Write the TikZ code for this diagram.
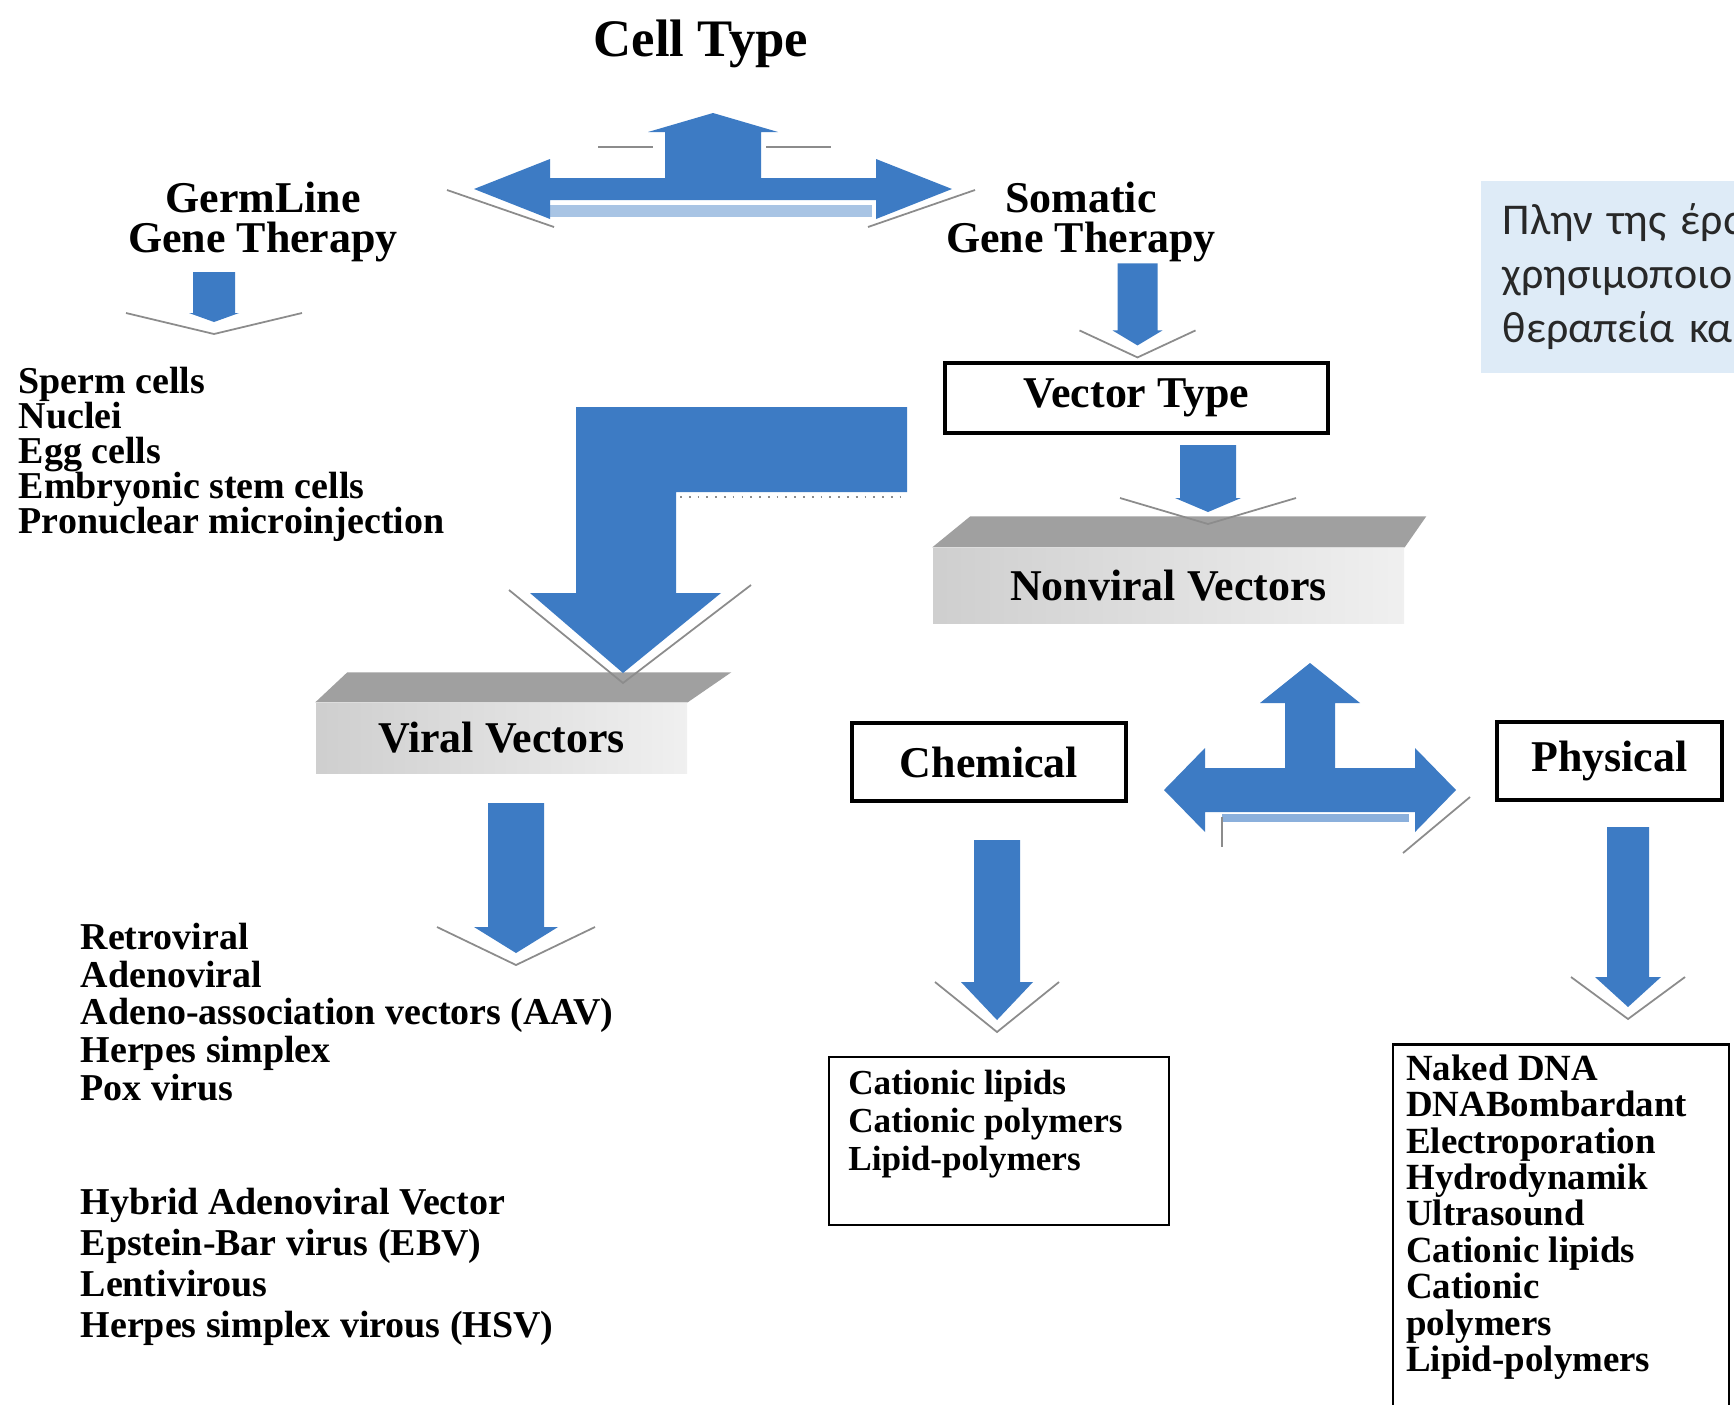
\documentclass[tikz,border=0pt]{standalone}
\usepackage{fontspec}
\setmainfont{Liberation Serif}
\newfontfamily\greekfont{Carlito}
\usepackage{xcolor}
\definecolor{arrowblue}{RGB}{61,123,196}
\definecolor{winggray}{RGB}{140,140,140}
\definecolor{slabtop}{RGB}{160,160,160}
\definecolor{notebg}{RGB}{222,235,247}
\definecolor{notetext}{RGB}{40,40,40}
\usetikzlibrary{positioning, calc}
\setlength{\lineskiplimit}{-100pt}

% block arrow pointing down, tip at the pic origin: length/stem/head/head length/wing
\tikzset{
  pics/downarrow/.style args={#1/#2/#3/#4/#5}{code={
      \draw[wing] (-#5,-#4) -- (0,12) -- (#5,-#4);
      \fill[arrowblue] (-#2,-#1) -- (#2,-#1) -- (#2,-#4) -- (#3,-#4)
        -- (0,0) -- (-#3,-#4) -- (-#2,-#4) -- cycle;
  }}
}

\begin{document}
\begin{tikzpicture}[
    x=0.1mm, y=-0.1mm,
    titletext/.style={font=\fontsize{15}{18}\selectfont\bfseries},
    heading/.style={font=\fontsize{12.5}{11.5}\selectfont\bfseries, align=center, inner sep=0pt},
    listtext/.style={font=\fontsize{10.8}{10}\selectfont\bfseries, align=left, anchor=north west, inner sep=0pt},
    labelbox/.style={rectangle, draw, line width=0.9pt, font=\fontsize{12.5}{15}\selectfont\bfseries},
    slabfront/.style={rectangle, left color=gray!38, right color=gray!12, font=\fontsize{12.5}{15}\selectfont\bfseries},
    wing/.style={draw=winggray, line width=0.5pt},
    notebox/.style={rectangle, fill=notebg, text=notetext, align=left, anchor=north west,
      font=\greekfont\fontsize{12.5}{15.3}\selectfont, inner xsep=2.2mm, text width=28mm, minimum height=19.2mm}
  ]
  \useasboundingbox (0,0) rectangle (1734,1404);
  \clip (0,0) rectangle (1734,1404);
  \fill[white] (0,0) rectangle (1734,1404);

  % texts and boxes
  \node[titletext] (celltype) at (701,44) {Cell Type};
  \node[heading] (germline) at (263,222) {GermLine\\Gene Therapy};
  \node[heading] (somatic) at (1081,222) {Somatic\\Gene Therapy};
  \node[notebox] (note) at (1480,180) {Πλην της έρα\\χρησιμοποιο\\θεραπεία κα};

  \node[listtext] (germcells) at (18,366)
    {Sperm cells\\Nuclei\\Egg cells\\Embryonic stem cells\\Pronuclear microinjection};

  \node[labelbox, minimum width=38.3mm, minimum height=7mm] (vtype) at (1136.5,398) {Vector Type};

  \node[slabfront, minimum width=47.1mm, minimum height=7.5mm] (nonviral) at (1168.5,585.5) {Nonviral Vectors};
  \fill[slabtop] (nonviral.north west) -- ++(38,-31) -- ++(456,0) -- (nonviral.north east) -- cycle;

  \node[slabfront, minimum width=37.1mm, minimum height=7mm] (viral) at (501.5,738) {Viral Vectors};
  \fill[slabtop] (viral.north west) -- ++(32,-30) -- ++(384,0) -- (viral.north east) -- cycle;

  \node[labelbox, minimum width=27.4mm, minimum height=7.8mm] (chemical) at (989,762) {Chemical};
  \node[labelbox, minimum width=22.5mm, minimum height=7.8mm] (physical) at (1609.5,761) {Physical};

  \node[listtext, font=\fontsize{10.8}{10.8}\selectfont\bfseries] (virallist) at (80,922)
    {Retroviral\\Adenoviral\\Adeno-association vectors (AAV)\\Herpes simplex\\Pox virus};
  \node[listtext, font=\fontsize{10.8}{11.7}\selectfont\bfseries] (hybridlist) at (80,1187)
    {Hybrid Adenoviral Vector\\Epstein-Bar virus (EBV)\\Lentivirous\\Herpes simplex virous (HSV)};

  \node[labelbox, line width=0.8pt, minimum width=34mm, minimum height=16.8mm] (chembox) at (999,1141) {};
  \node[listtext, font=\fontsize{10}{10.8}\selectfont\bfseries] (chemlist) at ($(chembox.north west)+(20,14)$)
    {Cationic lipids\\Cationic polymers\\Lipid-polymers};

  \node[labelbox, line width=0.8pt, minimum width=33.6mm, minimum height=38.5mm] (physbox) at (1561,1237) {};
  \node[listtext, font=\fontsize{10.5}{10.35}\selectfont\bfseries] (physlist) at ($(physbox.north west)+(14,11)$)
    {Naked DNA\\DNABombardant\\Electroporation\\Hydrodynamik\\Ultrasound\\Cationic lipids\\Cationic\\polymers\\Lipid-polymers};

  % upper split arrow
  \coordinate (topsplit) at (713,189);
  \draw[wing, shift={(topsplit)}] (-266,1) -- (-159,38);
  \draw[wing, shift={(topsplit)}] (262,1) -- (155,38);
  \draw[wing, shift={(topsplit)}] (-115,-42) -- (-60,-42);
  \draw[wing, shift={(topsplit)}] (53,-42) -- (118,-42);
  \fill[arrowblue!45, shift={(topsplit)}] (-163,16) rectangle (159,28);
  \fill[arrowblue, shift={(topsplit)}] (-239,0) -- (-163,-30) -- (-163,-11) -- (-48,-11)
    -- (-48,-57) -- (-65,-57) -- (0,-76) -- (65,-57) -- (48,-57) -- (48,-11)
    -- (163,-11) -- (163,-30) -- (239,0) -- (163,30) -- (163,11) -- (-163,11) -- (-163,30) -- cycle;

  % split arrow under the nonviral vectors
  \coordinate (nvsplit) at (1310,790);
  \fill[arrowblue!60, shift={(nvsplit)}] (-88,24) rectangle (99,32);
  \draw[wing, shift={(nvsplit)}] (160,7) -- (93,63);
  \draw[wing, shift={(nvsplit)}] (-88,27) -- (-88,57);
  \fill[arrowblue, shift={(nvsplit)}] (-146,0) -- (-105,-42) -- (-105,-22) -- (-25,-22)
    -- (-25,-87) -- (-50,-87) -- (0,-127) -- (50,-87) -- (25,-87) -- (25,-22)
    -- (105,-22) -- (105,-42) -- (146,0) -- (105,42) -- (105,22) -- (-105,22) -- (-105,42) -- cycle;

  % bent arrow to the viral vectors
  \draw[wing] (509,590) -- (623,683) -- (751,585);
  \draw[wing, dotted] (680,497) -- (905,497);
  \fill[arrowblue] (576,407) -- (907,407) -- (907,492) -- (676,492) -- (676,593)
    -- (721,593) -- (623,673) -- (530,593) -- (576,593) -- cycle;

  % straight arrows
  \pic at (214,322) {downarrow=50/21/25/9/88};
  \pic at ($(vtype.north)+(1,-16)$) {downarrow=82/20/25/15/58};
  \pic at (1208,512) {downarrow=67/28/33/14/88};
  \pic at (516,953) {downarrow=150/28/42/26/79};
  \pic at (997,1020) {downarrow=180/23/36/38/62};
  \pic at (1628,1007) {downarrow=180/21/33/30/57};
\end{tikzpicture}
\end{document}
